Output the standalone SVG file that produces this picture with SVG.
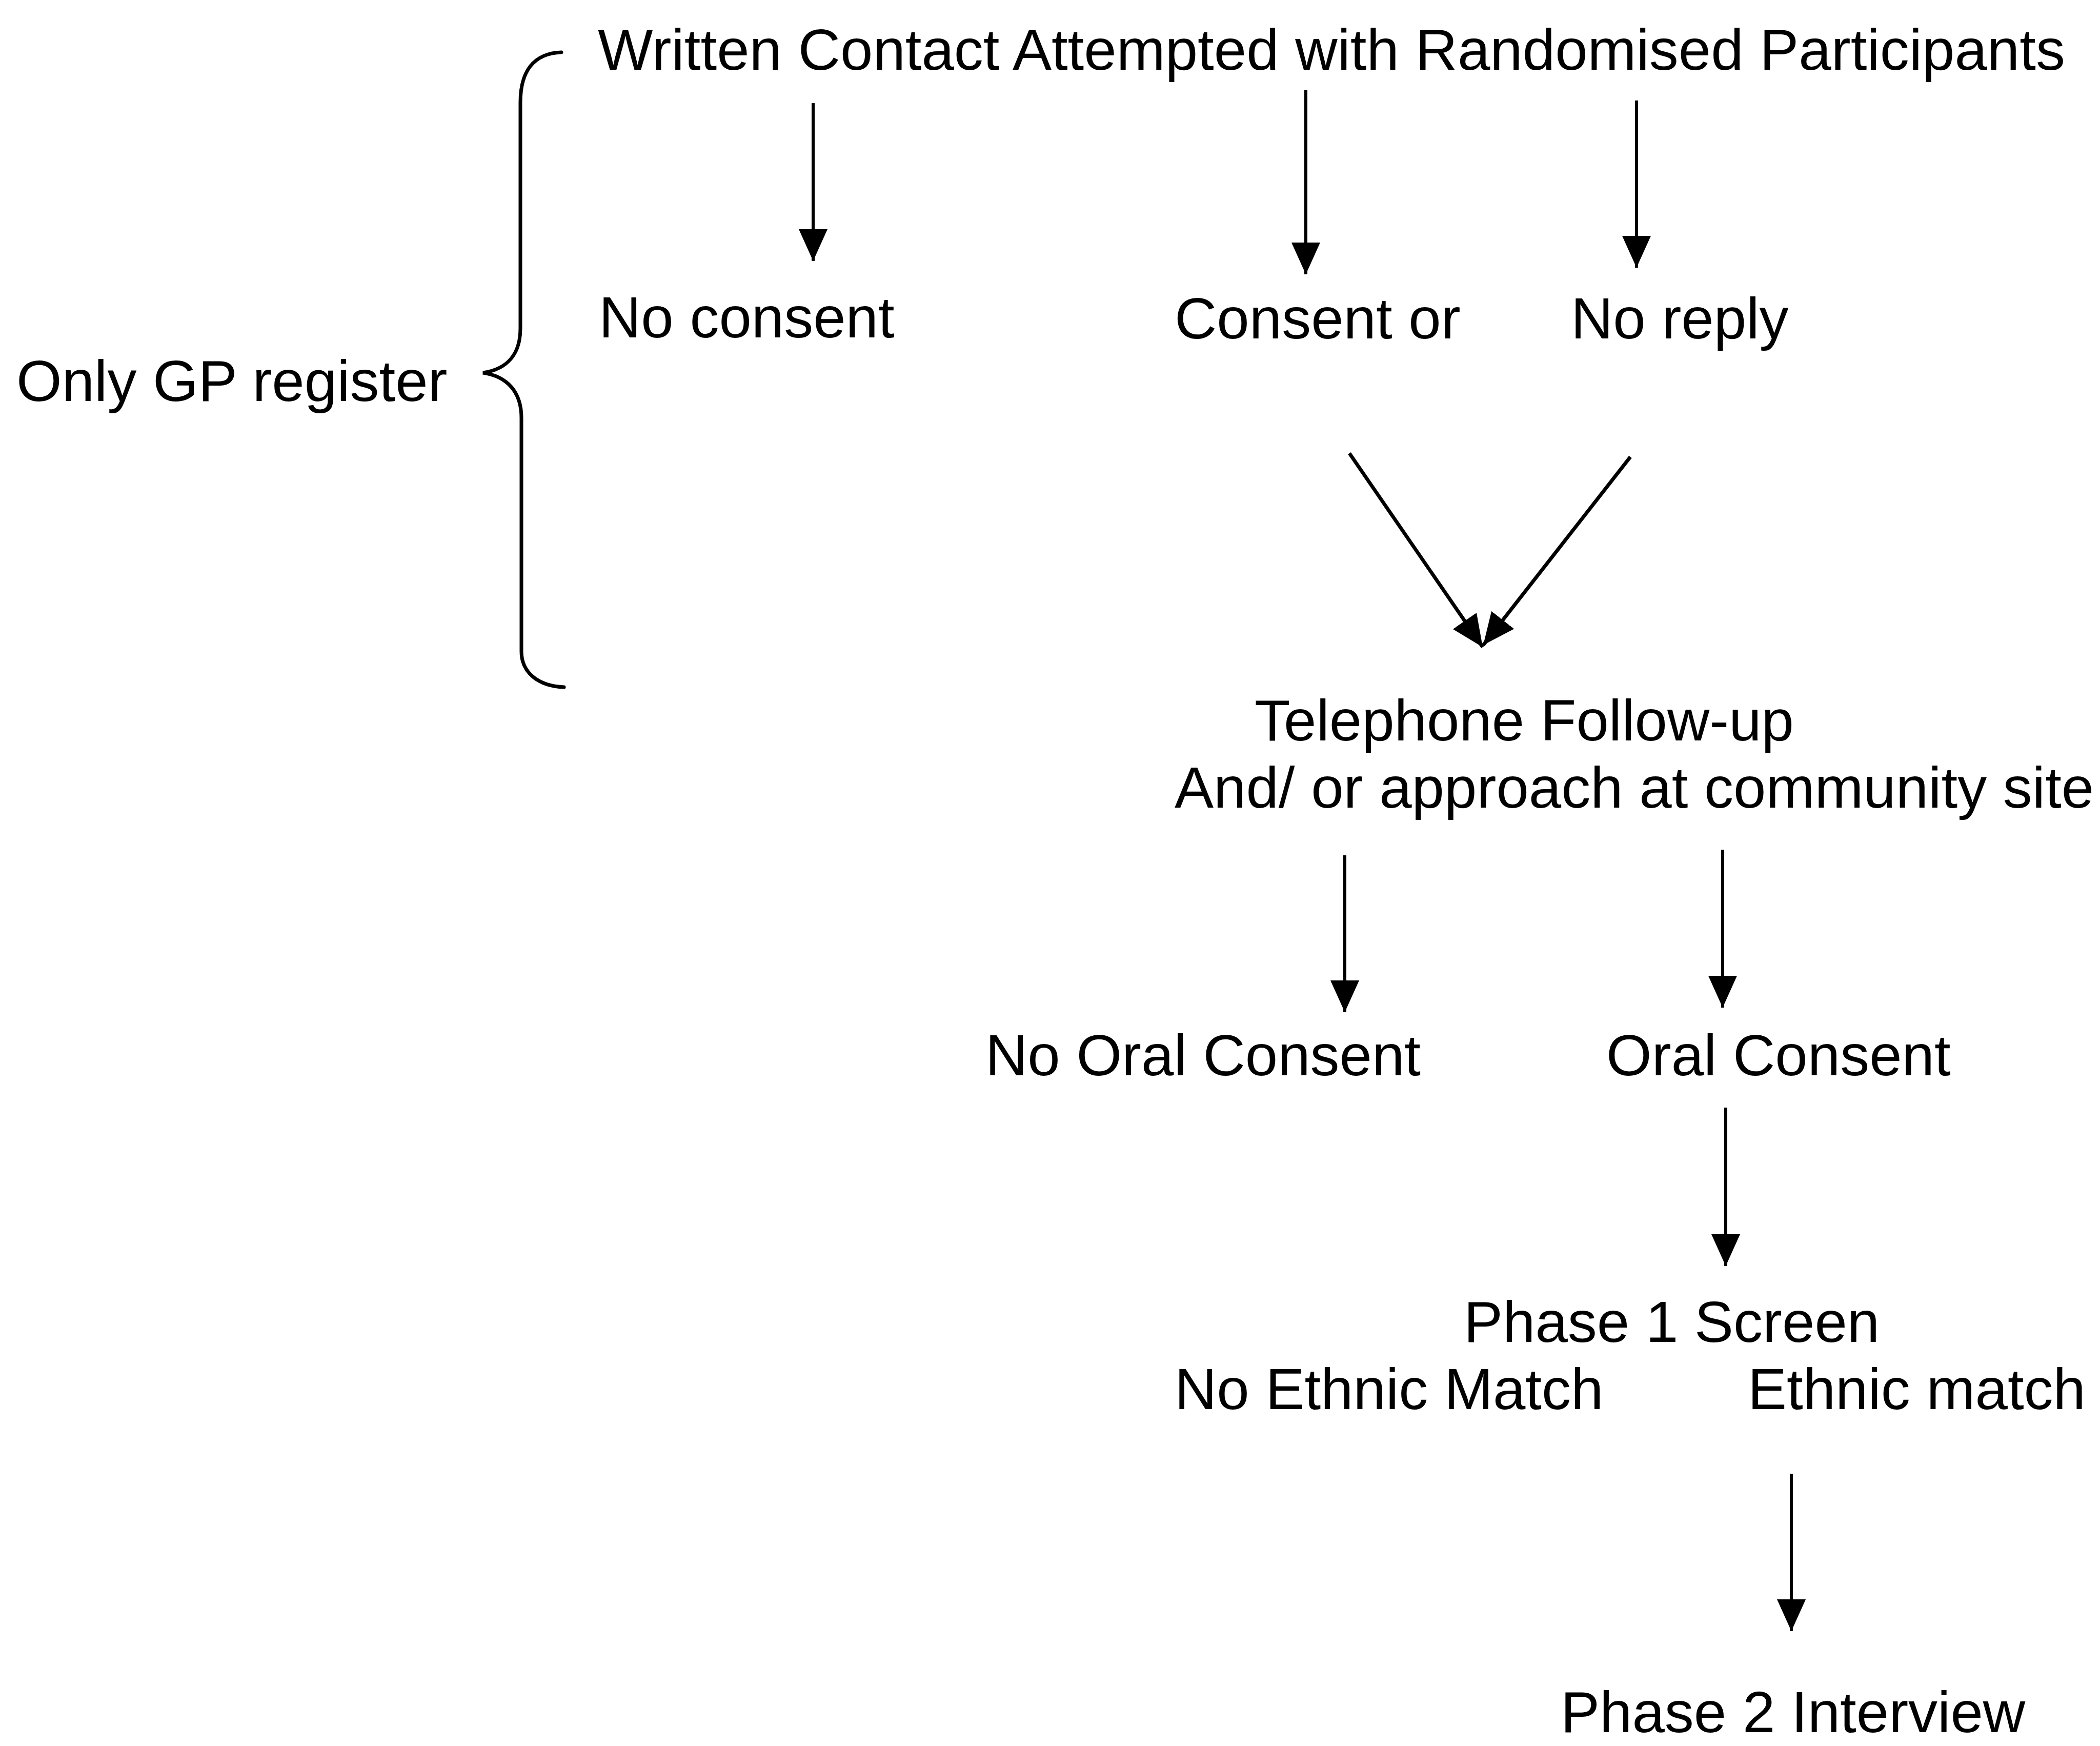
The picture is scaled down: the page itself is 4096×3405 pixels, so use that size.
<svg xmlns="http://www.w3.org/2000/svg" width="4096" height="3405" viewBox="0 0 4096 3405">
<style>
text{font-family:"Liberation Sans",Arial,sans-serif;font-size:114px;fill:#000}
.c{stroke:#000;stroke-width:6;fill:none;marker-end:url(#ah)}
.d{stroke:#000;stroke-width:7;fill:none;marker-end:url(#ah)}
.b{stroke:#000;stroke-width:7;fill:none;stroke-linecap:round}
</style>
<defs>
<marker id="ah" viewBox="0 0 62 56" refX="62" refY="28" markerWidth="62" markerHeight="56" markerUnits="userSpaceOnUse" orient="auto">
<path d="M0,0 L62,28 L0,56 z" fill="#000"/>
</marker>
</defs>
<rect width="4096" height="3405" fill="#fff"/>
<g id="brace"><path class="b" d="M1095,102 C1040,104 1015,140 1015,200 L1015,640 C1015,690 990,720 942,727 C990,734 1017,765 1017,815 L1017,1270 C1017,1312 1050,1338 1100,1340"/></g>
<g id="n-gp"><text x="32" y="782">Only GP register</text></g>
<g id="n-written"><text x="1166" y="136">Written Contact Attempted with Randomised Participants</text></g>
<g id="n-noconsent"><text x="1168" y="658">No consent</text></g>
<g id="n-consentor"><text x="2291" y="660">Consent or</text></g>
<g id="n-noreply"><text x="3064" y="660">No reply</text></g>
<g id="n-telephone"><text x="2447" y="1444">Telephone Follow-up</text><text x="2291" y="1575">And/ or approach at community site</text></g>
<g id="n-nooral"><text x="1922" y="2097">No Oral Consent</text></g>
<g id="n-oral"><text x="3133" y="2097">Oral Consent</text></g>
<g id="n-phase1"><text x="2855" y="2617">Phase 1 Screen</text></g>
<g id="n-noethnic"><text x="2291" y="2748">No Ethnic Match</text></g>
<g id="n-ethnic"><text x="3409" y="2748">Ethnic match</text></g>
<g id="n-phase2"><text x="3044" y="3378">Phase 2 Interview</text></g>
<g id="connectors">
<line class="c" x1="1586" y1="201" x2="1586" y2="509"/>
<line class="c" x1="2547" y1="176" x2="2547" y2="535"/>
<line class="c" x1="3192" y1="196" x2="3192" y2="522"/>
<line class="d" x1="2632" y1="884" x2="2892" y2="1262"/>
<line class="d" x1="3180" y1="891" x2="2893" y2="1258"/>
<line class="c" x1="2623" y1="1668" x2="2623" y2="1974"/>
<line class="c" x1="3360" y1="1657" x2="3360" y2="1965"/>
<line class="c" x1="3366" y1="2160" x2="3366" y2="2469"/>
<line class="c" x1="3494" y1="2874" x2="3494" y2="3181"/>
</g>
</svg>
